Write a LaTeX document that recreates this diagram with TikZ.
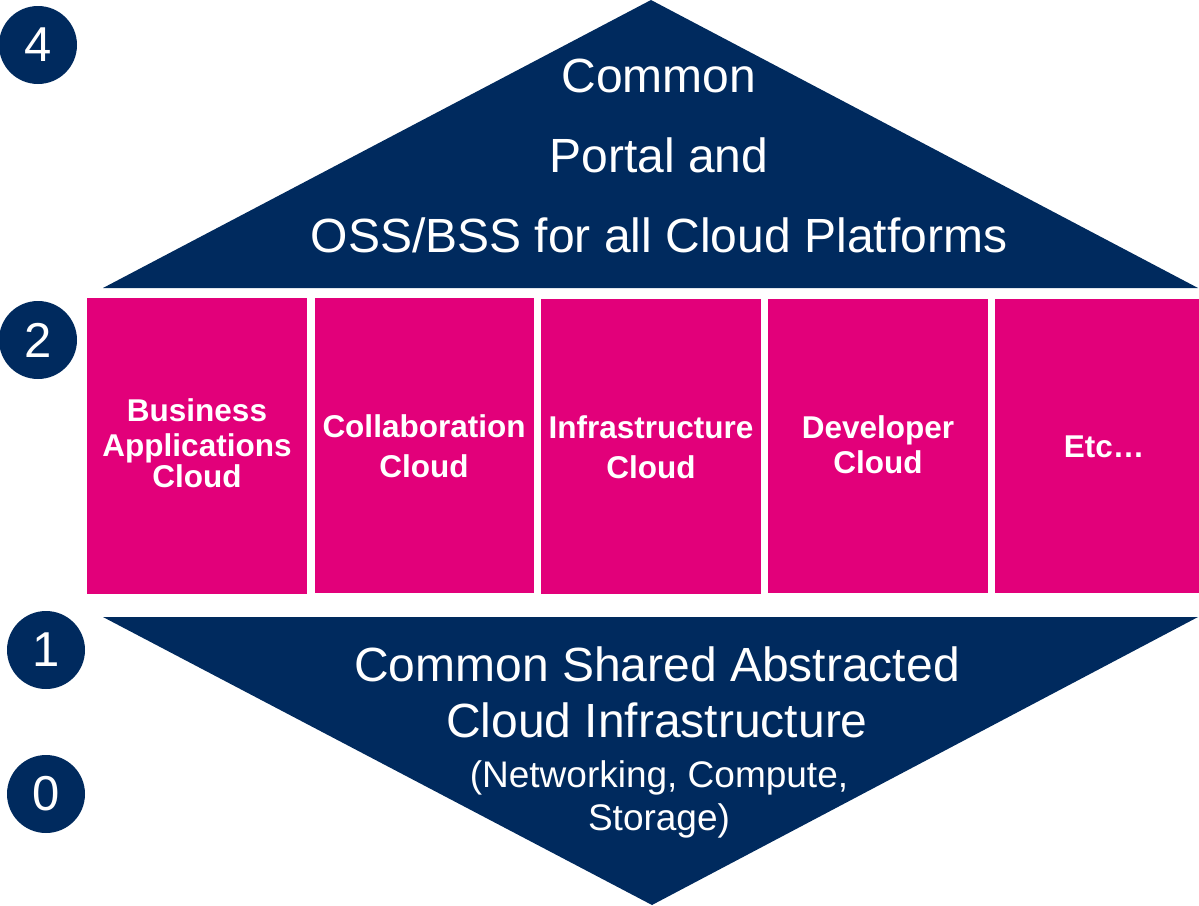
\documentclass[tikz,border=0pt]{standalone}
\usepackage{fontspec}
\setmainfont{Liberation Sans}
\definecolor{navyblue}{HTML}{002A5E}
\definecolor{tmag}{HTML}{E2007A}
\begin{document}
\begin{tikzpicture}[x=1pt,y=-1pt,
  navyshape/.style={fill=navyblue,draw=none},
  pinkbox/.style={fill=tmag,draw=none},
  bigtxt/.style={text=white,font=\fontsize{48}{48}\selectfont,anchor=base,inner sep=0pt},
  midtxt/.style={text=white,font=\fontsize{37}{37}\selectfont,anchor=base,inner sep=0pt},
  boxtxt/.style={text=white,font=\bfseries\fontsize{31.5}{31.5}\selectfont,anchor=base,inner sep=0pt},
  numcirc/.style={circle,fill=navyblue,text=white,minimum size=78pt,inner sep=0pt,font=\fontsize{49}{49}\selectfont}]
\useasboundingbox (0,0) rectangle (1199,905);
% top and bottom triangles
\path[navyshape] (651,0) -- (1198,288) -- (103,288) -- cycle;
\path[navyshape] (103,617) -- (1198,617) -- (652,905) -- cycle;
% pink boxes
\path[pinkbox] (87,298) rectangle (307,594);
\path[pinkbox] (315,298) rectangle (534,593);
\path[pinkbox] (541,299) rectangle (761,594);
\path[pinkbox] (768,299) rectangle (988,593);
\path[pinkbox] (995,299) rectangle (1199,593);
% number circles
\node[numcirc] (n4) at (38,45) {4};
\node[numcirc] (n2) at (38,340) {2};
\node[numcirc] (n1) at (46,650) {1};
\node[numcirc] (n0) at (46,794) {0};
% top text
\node[bigtxt] (t1) at (659,92) {Common};
\node[bigtxt] (t2) at (659,172) {Portal and};
\node[bigtxt] (t3) at (659,252) {OSS/BSS for all Cloud Platforms};
% bottom text
\node[bigtxt] (b1) at (657,681) {Common Shared Abstracted};
\node[bigtxt] (b2) at (657,737) {Cloud Infrastructure};
\node[midtxt] (b3) at (659,787) {(Networking, Compute,};
\node[midtxt] (b4) at (659,830) {Storage)};
% box texts
\node[boxtxt] (p1a) at (197,421) {Business};
\node[boxtxt] (p1b) at (197,456) {Applications};
\node[boxtxt] (p1c) at (197,487) {Cloud};
\node[boxtxt] (p2a) at (424,437) {Collaboration};
\node[boxtxt] (p2b) at (424,477) {Cloud};
\node[boxtxt] (p3a) at (651,438) {Infrastructure};
\node[boxtxt] (p3b) at (651,478) {Cloud};
\node[boxtxt] (p4a) at (878,438) {Developer};
\node[boxtxt] (p4b) at (878,473) {Cloud};
\node[boxtxt] (p5a) at (1104,457) {Etc…};
\end{tikzpicture}
\end{document}
